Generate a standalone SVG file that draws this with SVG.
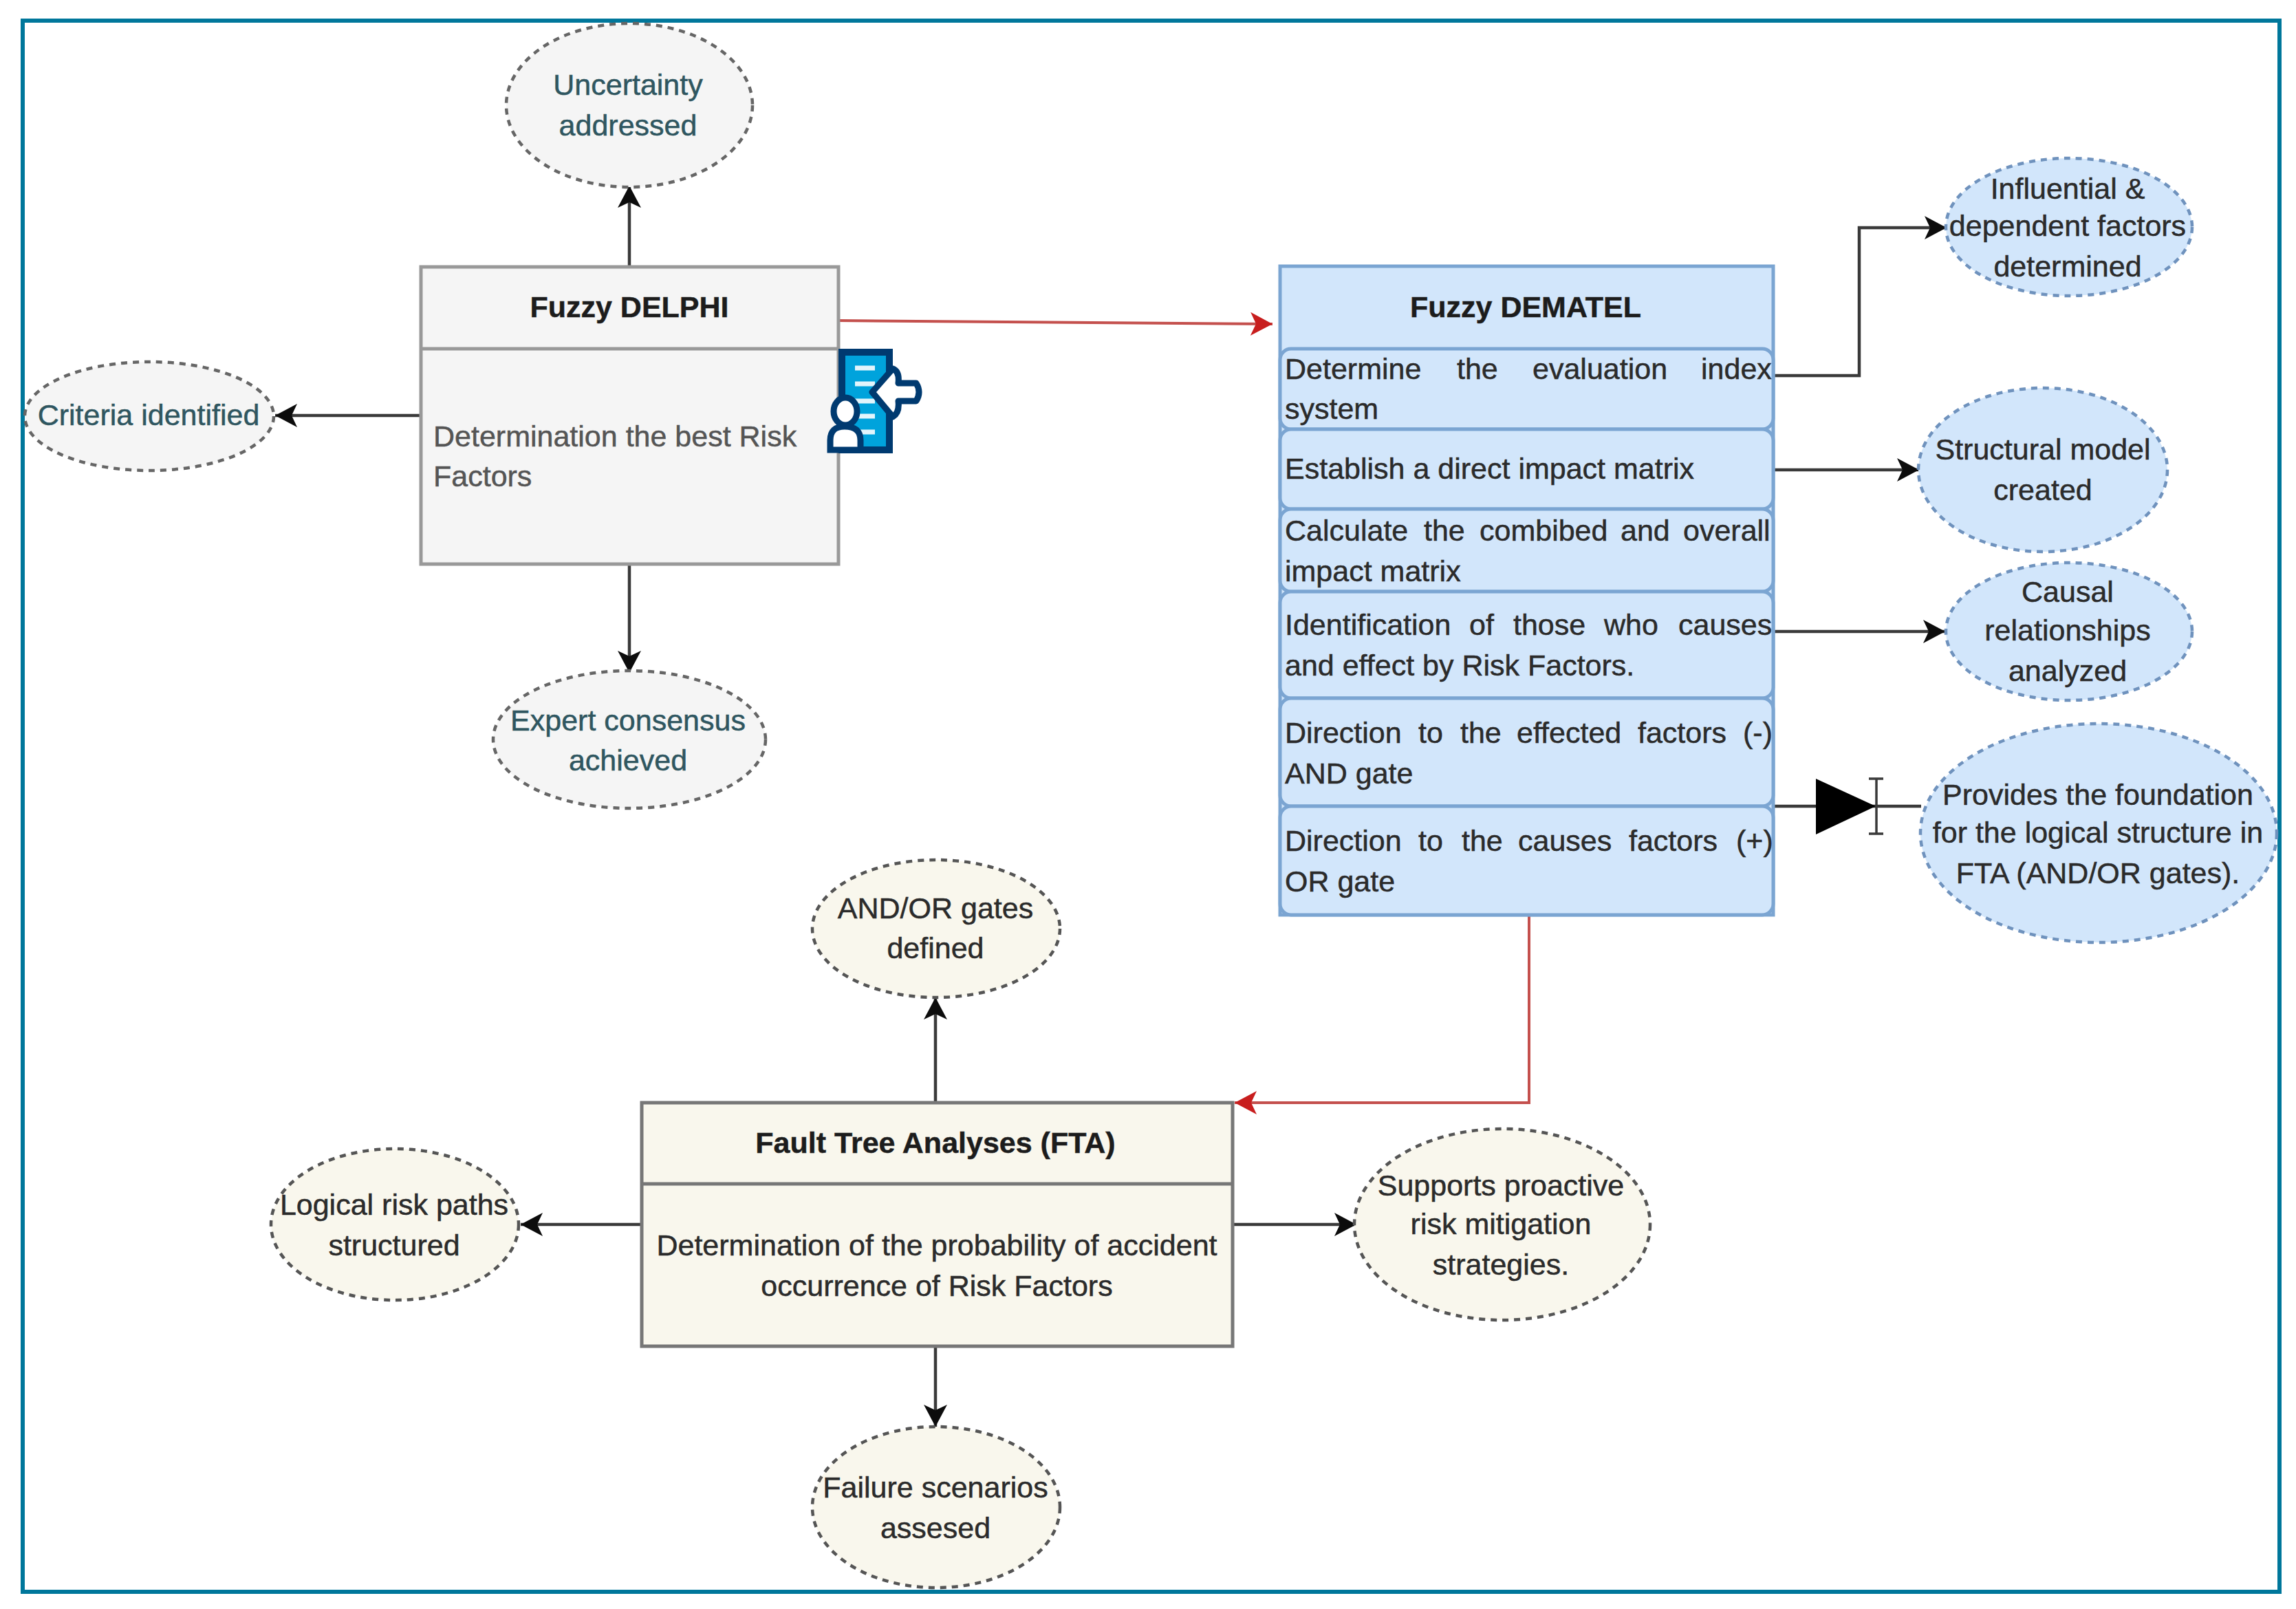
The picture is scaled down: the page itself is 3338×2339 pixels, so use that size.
<svg xmlns="http://www.w3.org/2000/svg" width="3338" height="2339" viewBox="0 0 3338 2339">
<style>
text{font-family:"Liberation Sans",Arial,sans-serif;font-size:43px;fill:#2b2b2b;stroke:#2b2b2b;stroke-width:.5}
.m{text-anchor:middle}
.t{fill:#2f5660;stroke:#2f5660}
.b{font-weight:bold;fill:#1c1c1c}
.g{fill:#555;stroke:#555}
.e1{fill:#f5f5f5;stroke:#666;stroke-width:4.5;stroke-dasharray:9 8}
.e2{fill:#d2e6fb;stroke:#6f92bd;stroke-width:4.5;stroke-dasharray:9 8}
.e3{fill:#f9f7ed;stroke:#555;stroke-width:4.5;stroke-dasharray:9 8}
.box1{fill:#f5f5f5;stroke:#999;stroke-width:5}
.box2{fill:#d2e6fb;stroke:#7ba5d2;stroke-width:5}
.box3{fill:#f9f7ed;stroke:#777;stroke-width:5}
.c{fill:none;stroke:#3a3a3a;stroke-width:4.5}
.r{fill:none;stroke:#c4504d;stroke-width:4}
</style>
<defs>
<marker id="ak" markerUnits="userSpaceOnUse" markerWidth="36" markerHeight="36" refX="32" refY="17" orient="auto"><path d="M0 0L32 17L0 34L8 17Z" fill="#0c0c0c"/></marker>
<marker id="ar" markerUnits="userSpaceOnUse" markerWidth="36" markerHeight="36" refX="32" refY="17" orient="auto"><path d="M0 0L32 17L0 34L8 17Z" fill="#c81e1e"/></marker>
</defs>
<rect width="3338" height="2339" fill="#fff"/>
<rect id="frame" x="33" y="30" width="3281" height="2284" fill="#fff" stroke="#00779b" stroke-width="6"/>
<g id="connectors">
<path class="c" d="M915 388V270" marker-end="url(#ak)"/>
<path class="c" d="M612 604H400" marker-end="url(#ak)"/>
<path class="c" d="M915 820V978" marker-end="url(#ak)"/>
<path class="r" d="M1219 466L1850 471" marker-end="url(#ar)"/>
<path class="c" d="M2578 546H2703V331H2830" marker-end="url(#ak)"/>
<path class="c" d="M2578 683H2790" marker-end="url(#ak)"/>
<path class="c" d="M2578 918H2828" marker-end="url(#ak)"/>
<path class="c" d="M2578 1172H2793"/>
<path d="M2640 1132L2727 1172L2640 1213Z" fill="#000"/>
<path class="c" d="M2728 1132V1212M2717 1132H2738M2717 1212H2738" style="stroke-width:3.5"/>
<path class="r" d="M2223 1330V1603H1795" marker-end="url(#ar)"/>
<path class="c" d="M1360 1603V1450" marker-end="url(#ak)"/>
<path class="c" d="M933 1780H757" marker-end="url(#ak)"/>
<path class="c" d="M1792 1780H1972" marker-end="url(#ak)"/>
<path class="c" d="M1360 1957V2074" marker-end="url(#ak)"/>
</g>
<g id="delphi">
<rect class="box1" x="612" y="388" width="607" height="432"/>
<path class="box1" d="M612 507H1219"/>
<text class="m b" x="915" y="461">Fuzzy DELPHI</text>
<text class="g" x="630" y="649">Determination the best Risk</text>
<text class="g" x="630" y="707">Factors</text>
</g>
<g id="icon">
<rect x="1224" y="512" width="69" height="142" fill="#00a3dc" stroke="#003a70" stroke-width="10"/>
<path d="M1243 535h29M1243 558h29M1243 583h29M1243 605h29M1243 628h29" stroke="#e2f5fc" stroke-width="7"/>
<path d="M1268 570L1298 536Q1308 540 1306 557H1332Q1340 570 1332 583H1306Q1308 600 1298 606Z" fill="#fff" stroke="#003a70" stroke-width="9" stroke-linejoin="round"/>
<ellipse cx="1229" cy="598" rx="17" ry="20" fill="#fff" stroke="#003a70" stroke-width="9"/>
<path d="M1207 654v-14q0-20 21-20 23 0 23 20v14z" fill="#fff" stroke="#003a70" stroke-width="9"/>
</g>
<g id="dematel">
<rect class="box2" x="1861" y="387" width="717" height="943"/>
<rect class="box2" x="1861" y="507" width="717" height="117" rx="16"/>
<rect class="box2" x="1861" y="624" width="717" height="116" rx="16"/>
<rect class="box2" x="1861" y="740" width="717" height="120" rx="16"/>
<rect class="box2" x="1861" y="860" width="717" height="155" rx="16"/>
<rect class="box2" x="1861" y="1015" width="717" height="157" rx="16"/>
<rect class="box2" x="1861" y="1172" width="717" height="158" rx="16"/>
<text class="m b" x="2218" y="461">Fuzzy DEMATEL</text>
<text y="551"><tspan x="1868">Determine</tspan><tspan x="2118">the</tspan><tspan x="2228">evaluation</tspan><tspan x="2473">index</tspan></text>
<text x="1868" y="609">system</text>
<text x="1868" y="696">Establish a direct impact matrix</text>
<text y="786"><tspan x="1868">Calculate</tspan><tspan x="2070">the</tspan><tspan x="2151">combibed</tspan><tspan x="2356">and</tspan><tspan x="2447">overall</tspan></text>
<text x="1868" y="845">impact matrix</text>
<text y="923"><tspan x="1868">Identification</tspan><tspan x="2136">of</tspan><tspan x="2200">those</tspan><tspan x="2332">who</tspan><tspan x="2440">causes</tspan></text>
<text x="1868" y="982">and effect by Risk Factors.</text>
<text y="1080"><tspan x="1868">Direction</tspan><tspan x="2062">to</tspan><tspan x="2123">the</tspan><tspan x="2205">effected</tspan><tspan x="2381">factors</tspan><tspan x="2534">(-)</tspan></text>
<text x="1868" y="1139">AND gate</text>
<text y="1237"><tspan x="1868">Direction</tspan><tspan x="2062">to</tspan><tspan x="2125">the</tspan><tspan x="2207">causes</tspan><tspan x="2368">factors</tspan><tspan x="2524">(+)</tspan></text>
<text x="1868" y="1296">OR gate</text>
</g>
<g id="fta">
<rect class="box3" x="933" y="1603" width="859" height="354"/>
<path class="box3" d="M933 1721H1792"/>
<text class="m b" x="1360" y="1676">Fault Tree Analyses (FTA)</text>
<text class="m" x="1362" y="1825">Determination of the probability of accident</text>
<text class="m" x="1362" y="1884">occurrence of Risk Factors</text>
</g>
<g id="n-uncertainty"><ellipse class="e1" cx="915" cy="153" rx="179" ry="119"/><text class="m t" x="913" y="138">Uncertainty</text><text class="m t" x="913" y="197">addressed</text></g>
<g id="n-criteria"><ellipse class="e1" cx="217" cy="605" rx="181" ry="79"/><text class="m t" x="216" y="618">Criteria identified</text></g>
<g id="n-expert"><ellipse class="e1" cx="915" cy="1075" rx="198" ry="100"/><text class="m t" x="913" y="1062">Expert consensus</text><text class="m t" x="913" y="1120">achieved</text></g>
<g id="n-influential"><ellipse class="e2" cx="3008" cy="330" rx="179" ry="100"/><text class="m" x="3006" y="289">Influential &amp;</text><text class="m" x="3006" y="343">dependent factors</text><text class="m" x="3006" y="402">determined</text></g>
<g id="n-structural"><ellipse class="e2" cx="2970" cy="683" rx="181" ry="119"/><text class="m" x="2970" y="668">Structural model</text><text class="m" x="2970" y="727">created</text></g>
<g id="n-causal"><ellipse class="e2" cx="3008" cy="918" rx="179" ry="100"/><text class="m" x="3006" y="875">Causal</text><text class="m" x="3006" y="931">relationships</text><text class="m" x="3006" y="990">analyzed</text></g>
<g id="n-provides"><ellipse class="e2" cx="3051" cy="1211" rx="259" ry="159"/><text class="m" x="3050" y="1170">Provides the foundation</text><text class="m" x="3050" y="1225">for the logical structure in</text><text class="m" x="3050" y="1284">FTA (AND/OR gates).</text></g>
<g id="n-andor"><ellipse class="e3" cx="1361" cy="1350" rx="180" ry="100"/><text class="m" x="1360" y="1335">AND/OR gates</text><text class="m" x="1360" y="1393">defined</text></g>
<g id="n-logical"><ellipse class="e3" cx="574" cy="1780" rx="180" ry="110"/><text class="m" x="573" y="1766">Logical risk paths</text><text class="m" x="573" y="1825">structured</text></g>
<g id="n-supports"><ellipse class="e3" cx="2184" cy="1780" rx="215" ry="139"/><text class="m" x="2182" y="1738">Supports proactive</text><text class="m" x="2182" y="1794">risk mitigation</text><text class="m" x="2182" y="1853">strategies.</text></g>
<g id="n-failure"><ellipse class="e3" cx="1361" cy="2191" rx="180" ry="117"/><text class="m" x="1360" y="2177">Failure scenarios</text><text class="m" x="1360" y="2236">assesed</text></g>
</svg>
